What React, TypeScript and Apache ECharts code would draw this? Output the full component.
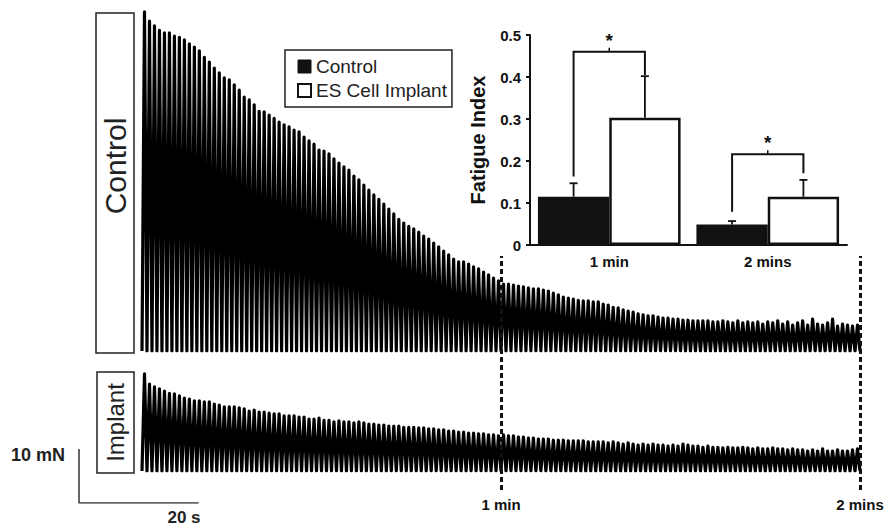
import React, { useEffect, useRef } from 'react';
import * as echarts from 'echarts';

// ---------------- data ----------------
// Peak twitch force (mN) of each successive contraction, control muscle
const controlPeaks = [
  62.8, 61.1, 60.2, 59.4, 58.9, 58.9, 58.3, 58.1, 57.6, 56.9,
  56.3, 55.6, 54.4, 53.5, 52.4, 51.5, 50.6, 50.2, 49.3, 48.3,
  47.0, 46.5, 45.6, 44.4, 44.3, 43.7, 43.1, 42.4, 41.9, 41.5,
  40.9, 40.6, 39.6, 38.9, 38.3, 37.2, 37.0, 36.5, 35.6, 34.8,
  34.1, 33.5, 32.4, 31.7, 30.7, 29.8, 28.9, 28.1, 27.2, 26.3,
  25.4, 24.4, 23.7, 23.1, 22.6, 22.0, 21.3, 20.7, 20.0, 19.3,
  18.5, 17.8, 17.0, 16.5, 16.5, 16.1, 15.6, 15.2, 14.6, 14.1,
  13.5, 13.0, 12.4, 12.4, 12.2, 12.0, 11.9, 11.7, 11.5, 11.5,
  11.3, 11.1, 10.7, 10.4, 10.0, 9.8, 9.6, 9.4, 9.3, 9.3,
  9.1, 9.1, 8.7, 8.5, 8.1, 8.0, 7.6, 7.4, 7.2, 6.9,
  6.7, 6.5, 6.5, 6.3, 6.1, 6.1, 5.9, 5.9, 5.7, 5.7,
  5.6, 5.6, 5.6, 5.6, 5.4, 5.4, 5.6, 5.4, 5.2, 5.6,
  5.2, 5.4, 5.2, 5.4, 5.0, 5.4, 5.2, 5.6, 5.0, 5.4,
  4.8, 5.2, 5.6, 4.8, 5.9, 5.0, 4.8, 5.2, 5.9, 4.6,
  5.0, 4.8, 4.6, 4.8,
];

// Peak twitch force (mN) of each successive contraction, ES cell implant muscle
const implantPeaks = [
  18.0, 16.1, 15.6, 15.2, 14.8, 14.4, 14.3, 13.9, 13.5, 13.3,
  13.0, 13.0, 12.8, 12.8, 12.4, 12.2, 11.9, 11.9, 11.9, 11.7,
  11.5, 11.1, 11.3, 10.9, 10.9, 10.7, 10.6, 10.6, 10.2, 10.2,
  10.2, 10.0, 10.0, 9.6, 9.6, 9.8, 9.4, 9.4, 9.1, 9.3,
  9.1, 9.1, 8.9, 9.1, 8.9, 8.7, 8.7, 8.5, 8.5, 8.3,
  8.3, 8.3, 8.1, 8.1, 8.1, 8.0, 8.0, 7.8, 7.8, 7.6,
  7.6, 7.4, 7.4, 7.2, 7.2, 7.0, 7.0, 6.9, 6.9, 6.7,
  6.7, 6.5, 6.7, 6.5, 6.5, 6.3, 6.3, 6.1, 6.1, 5.9,
  5.9, 5.9, 5.7, 5.7, 5.7, 5.6, 5.6, 5.6, 5.6, 5.4,
  5.4, 5.4, 5.4, 5.2, 5.4, 5.2, 5.0, 5.2, 5.0, 4.8,
  5.0, 4.8, 5.0, 4.8, 4.8, 4.6, 4.8, 4.6, 5.0, 4.8,
  4.6, 4.6, 4.4, 4.6, 4.4, 4.4, 4.3, 4.4, 4.3, 4.3,
  4.4, 4.3, 4.1, 4.3, 4.1, 4.1, 4.3, 4.1, 4.1, 3.9,
  4.1, 3.9, 3.9, 3.7, 3.9, 3.7, 4.1, 3.7, 3.7, 3.9,
  3.7, 3.7, 3.9, 4.1,
];

const traceSeconds = 120; // recording length (s)
const troughForce = 0; // relaxation level between twitches (mN)
const markTimes = [60, 120]; // s
const markLabels = ['1 min', '2 mins'];
const scaleBarForce = 10; // mN
const scaleBarTime = 20; // s
const scaleForceLabel = '10 mN';
const scaleTimeLabel = '20 s';
const traceNames = ['Control', 'Implant'];

// Inset bar chart
const fatigueCategories = ['1 min', '2 mins'];
const seriesNames = ['Control', 'ES Cell Implant'];
const controlMean = [0.115, 0.049];
const controlSem = [0.032, 0.008];
const implantMean = [0.303, 0.115];
const implantSem = [0.099, 0.04];
// [left leg bottom, bracket level, right leg bottom] for each category
const sigBrackets = [
  [0.163, 0.46, 0.405],
  [0.079, 0.216, 0.171],
];
const sigMarks = ['*', '*'];
const fatigueMax = 0.5;
const fatigueStep = 0.1;
const fatigueAxisName = 'Fatigue Index';

// ---------------- layout ----------------
const W = 888;
const H = 527;
const TRACE_LEFT = 142;
const TRACE_WIDTH = 718;
const PX_PER_S = TRACE_WIDTH / traceSeconds;
const PX_PER_MN = 5.4;
const CONTROL_BASE = 351;
const CONTROL_MAX = 63;
const IMPLANT_BASE = 471;
const IMPLANT_MAX = 19;
const FONT = '"Liberation Sans", Arial, Helvetica, sans-serif';
const INK = '#111';
const BAR_HALF = 0.225; // bar centre offset as fraction of category band
const TRACE_LW = 3.2;

function traceData(peaks: number[]) {
  const period = traceSeconds / peaks.length;
  const pts: number[][] = [];
  peaks.forEach((p, i) => {
    pts.push([i * period, troughForce]);
    pts.push([(i + 0.5) * period, p]);
  });
  pts.push([traceSeconds, troughForce]);
  return pts;
}

function errRender(offset: number) {
  return (params: any, api: any) => {
    const j = api.value(0);
    const m = api.value(1);
    const e = api.value(2);
    const band = api.size([1, 0])[0];
    const base = api.coord([j, m]);
    const top = api.coord([j, m + e]);
    const x = base[0] + offset * band;
    const st = { stroke: INK, lineWidth: 1.8 };
    return {
      type: 'group',
      children: [
        { type: 'line', shape: { x1: x, y1: base[1], x2: x, y2: top[1] }, style: st },
        { type: 'line', shape: { x1: x - 4, y1: top[1], x2: x + 4, y2: top[1] }, style: st },
      ],
    };
  };
}

function sigRender(params: any, api: any) {
  const j = api.value(0);
  const band = api.size([1, 0])[0];
  const pL = api.coord([j, api.value(1)]);
  const pLev = api.coord([j, api.value(2)]);
  const pR = api.coord([j, api.value(3)]);
  const xc = pL[0];
  const xL = xc - BAR_HALF * band;
  const xR = xc + BAR_HALF * band;
  return {
    type: 'group',
    children: [
      {
        type: 'polyline',
        shape: { points: [[xL, pL[1]], [xL, pLev[1]], [xR, pLev[1]], [xR, pR[1]]] },
        style: { stroke: INK, lineWidth: 2, fill: null },
      },
      { type: 'line', shape: { x1: xc, y1: pLev[1], x2: xc, y2: pLev[1] - 4 }, style: { stroke: INK, lineWidth: 1.5 } },
      {
        type: 'text',
        x: xc,
        y: pLev[1] - 2,
        style: {
          text: sigMarks[params.dataIndex],
          fontSize: 19,
          fontWeight: 'bold',
          fontFamily: FONT,
          fill: INK,
          align: 'center',
          verticalAlign: 'bottom',
        },
      },
    ],
  };
}

export default function App() {
  const ref = useRef<HTMLDivElement>(null);

  useEffect(() => {
    if (!ref.current) return;
    const chart = echarts.init(ref.current, undefined, { renderer: 'svg' });

    const option: any = {
      animation: false,
      backgroundColor: '#fff',
      textStyle: { fontFamily: FONT },
      grid: [
        { left: TRACE_LEFT, top: CONTROL_BASE - CONTROL_MAX * PX_PER_MN, width: TRACE_WIDTH, height: CONTROL_MAX * PX_PER_MN },
        { left: TRACE_LEFT, top: IMPLANT_BASE - IMPLANT_MAX * PX_PER_MN, width: TRACE_WIDTH, height: IMPLANT_MAX * PX_PER_MN },
        { left: TRACE_LEFT, top: 256, width: TRACE_WIDTH, height: 234 },
        { left: 79, top: 449, width: scaleBarTime * PX_PER_S, height: scaleBarForce * PX_PER_MN },
        { left: 530, top: 35, width: 317, height: 210 },
      ],
      xAxis: [
        { gridIndex: 0, type: 'value', min: 0, max: traceSeconds, show: false },
        { gridIndex: 1, type: 'value', min: 0, max: traceSeconds, show: false },
        { gridIndex: 2, type: 'value', min: 0, max: traceSeconds, show: false },
        { gridIndex: 3, type: 'value', min: 0, max: scaleBarTime, show: false },
        {
          gridIndex: 4,
          type: 'category',
          data: fatigueCategories,
          axisLine: { lineStyle: { color: INK, width: 2 } },
          axisTick: { show: false },
          axisLabel: { fontSize: 15, fontWeight: 'bold', color: INK, margin: 9, fontFamily: FONT },
        },
      ],
      yAxis: [
        { gridIndex: 0, type: 'value', min: 0, max: CONTROL_MAX, show: false },
        { gridIndex: 1, type: 'value', min: 0, max: IMPLANT_MAX, show: false },
        { gridIndex: 2, type: 'value', min: 0, max: 1, show: false },
        { gridIndex: 3, type: 'value', min: 0, max: scaleBarForce, show: false },
        {
          gridIndex: 4,
          type: 'value',
          min: 0,
          max: fatigueMax,
          interval: fatigueStep,
          name: fatigueAxisName,
          nameLocation: 'middle',
          nameGap: 42,
          nameTextStyle: { fontSize: 20, fontWeight: 'bold', color: INK, fontFamily: FONT },
          axisLine: { show: true, lineStyle: { color: INK, width: 2 } },
          axisTick: { show: true, length: 4, lineStyle: { color: INK, width: 2 } },
          splitLine: { show: false },
          axisLabel: {
            fontSize: 15,
            fontWeight: 'bold',
            color: INK,
            margin: 9,
            fontFamily: FONT,
            formatter: (v: number) => (v === 0 ? '0' : v.toFixed(1)),
          },
        },
      ],
      legend: {
        orient: 'vertical',
        left: 285,
        top: 50,
        selectedMode: false,
        borderColor: '#222',
        borderWidth: 1.5,
        padding: [6, 5, 6, 12],
        itemWidth: 13,
        itemHeight: 13,
        itemGap: 3,
        textStyle: { fontSize: 19, color: '#222', fontFamily: FONT, lineHeight: 21 },
        data: [
          { name: seriesNames[0], icon: 'rect', itemStyle: { color: INK, borderColor: INK, borderWidth: 1 } },
          { name: seriesNames[1], icon: 'rect', itemStyle: { color: '#fff', borderColor: INK, borderWidth: 2 } },
        ],
      },
      series: [
        {
          type: 'line',
          name: 'control-trace',
          xAxisIndex: 0,
          yAxisIndex: 0,
          data: traceData(controlPeaks),
          showSymbol: false,
          symbol: 'none',
          lineStyle: { color: '#000', width: TRACE_LW, join: 'round' },
          silent: true,
        },
        {
          type: 'line',
          name: 'implant-trace',
          xAxisIndex: 1,
          yAxisIndex: 1,
          data: traceData(implantPeaks),
          showSymbol: false,
          symbol: 'none',
          lineStyle: { color: '#000', width: TRACE_LW, join: 'round' },
          silent: true,
        },
        {
          type: 'line',
          name: 'marks',
          xAxisIndex: 2,
          yAxisIndex: 2,
          data: [[0, 0]],
          symbol: 'none',
          lineStyle: { opacity: 0 },
          silent: true,
          z: 6,
          markLine: {
            silent: true,
            symbol: ['none', 'none'],
            lineStyle: { color: INK, width: 3, type: [5, 3] },
            label: {
              show: true,
              position: 'start',
              formatter: '{b}',
              fontSize: 15,
              fontWeight: 'bold',
              color: INK,
              fontFamily: FONT,
              distance: 7,
            },
            data: markTimes.map((t, i) => ({ xAxis: t, name: markLabels[i] })),
          },
        },
        {
          type: 'line',
          name: 'scale-bar',
          xAxisIndex: 3,
          yAxisIndex: 3,
          data: [[0, scaleBarForce], [0, 0], [scaleBarTime, 0]],
          symbol: 'none',
          lineStyle: { color: '#333', width: 1.5 },
          silent: true,
        },
        {
          type: 'bar',
          name: seriesNames[0],
          xAxisIndex: 4,
          yAxisIndex: 4,
          data: controlMean,
          barGap: '0%',
          barCategoryGap: '10%',
          itemStyle: { color: INK, borderColor: INK, borderWidth: 2 },
        },
        {
          type: 'bar',
          name: seriesNames[1],
          xAxisIndex: 4,
          yAxisIndex: 4,
          data: implantMean,
          barGap: '0%',
          barCategoryGap: '10%',
          itemStyle: { color: '#fff', borderColor: INK, borderWidth: 2.5 },
        },
        {
          type: 'custom',
          name: 'control-err',
          xAxisIndex: 4,
          yAxisIndex: 4,
          z: 5,
          data: controlMean.map((m, i) => [i, m, controlSem[i]]),
          renderItem: errRender(-BAR_HALF),
          silent: true,
        },
        {
          type: 'custom',
          name: 'implant-err',
          xAxisIndex: 4,
          yAxisIndex: 4,
          z: 5,
          data: implantMean.map((m, i) => [i, m, implantSem[i]]),
          renderItem: errRender(BAR_HALF),
          silent: true,
        },
        {
          type: 'custom',
          name: 'significance',
          xAxisIndex: 4,
          yAxisIndex: 4,
          z: 5,
          data: sigBrackets.map((b, i) => [i, b[0], b[1], b[2]]),
          renderItem: sigRender,
          silent: true,
        },
      ],
      graphic: [
        { type: 'rect', shape: { x: 96, y: 13, width: 38, height: 340 }, style: { fill: '#fff', stroke: '#222', lineWidth: 1.5 } },
        {
          type: 'text',
          x: 115,
          y: 166,
          rotation: Math.PI / 2,
          style: { text: traceNames[0], fontSize: 30, fontFamily: FONT, fill: '#222', align: 'center', verticalAlign: 'middle' },
        },
        { type: 'rect', shape: { x: 97, y: 372, width: 37, height: 101 }, style: { fill: '#fff', stroke: '#222', lineWidth: 1.5 } },
        {
          type: 'text',
          x: 115.5,
          y: 422.5,
          rotation: Math.PI / 2,
          style: { text: traceNames[1], fontSize: 24, fontFamily: FONT, fill: '#222', align: 'center', verticalAlign: 'middle' },
        },
        {
          type: 'text',
          x: 38,
          y: 455,
          style: { text: scaleForceLabel, fontSize: 18, fontWeight: 'bold', fontFamily: FONT, fill: '#222', align: 'center', verticalAlign: 'middle' },
        },
        {
          type: 'text',
          x: 184,
          y: 517,
          style: { text: scaleTimeLabel, fontSize: 17, fontWeight: 'bold', fontFamily: FONT, fill: '#222', align: 'center', verticalAlign: 'middle' },
        },
      ],
    };

    chart.setOption(option);
    return () => chart.dispose();
  }, []);

  return (
    <div
      ref={ref}
      style={{ position: 'fixed', left: 0, top: 0, width: W, height: H, background: '#fff' }}
    />
  );
}
